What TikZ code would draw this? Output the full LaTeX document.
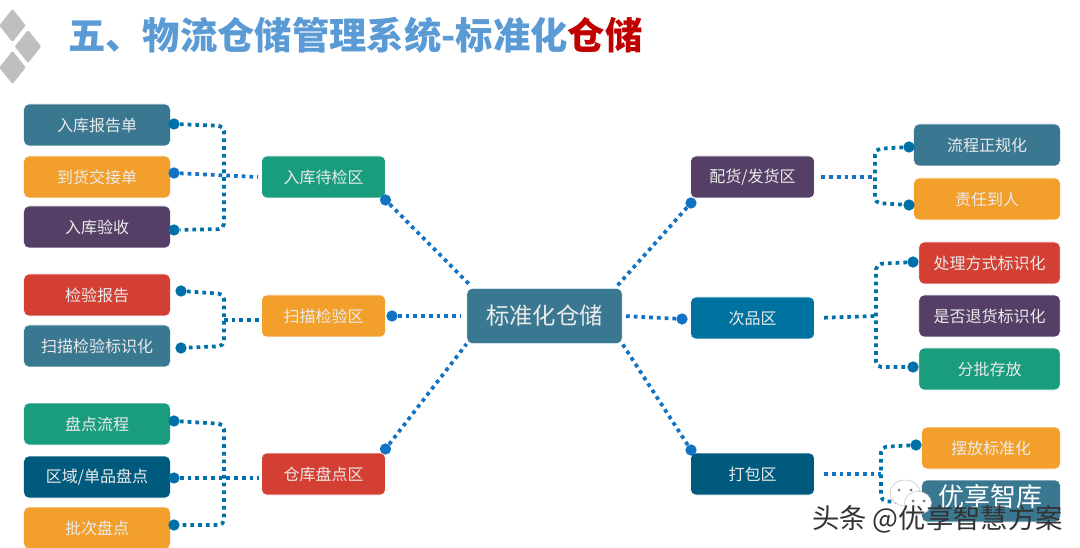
\documentclass[tikz,border=0pt]{standalone}
\usepackage{fontspec}
\setmainfont{Noto Sans CJK SC}
\usepackage{tikz}
\usetikzlibrary{positioning}
\definecolor{cteal}{HTML}{3A7891}
\definecolor{corange}{HTML}{F29F2B}
\definecolor{cpurple}{HTML}{563F66}
\definecolor{cred}{HTML}{D33F32}
\definecolor{cgreen}{HTML}{1A9C7F}
\definecolor{cnavy}{HTML}{005A7D}
\definecolor{cblue}{HTML}{0072A0}
\definecolor{cdot}{HTML}{1273C5}
\definecolor{cdotb}{HTML}{0070A8}
\definecolor{ctitle}{HTML}{5B9BD5}
\definecolor{ctitler}{HTML}{C00000}
\definecolor{cdiam}{HTML}{BFBFBF}

\begin{document}
\begin{tikzpicture}[
  x=0.75pt,y=-0.75pt,
  line join=round,
  leaf/.style={rounded corners=4pt,draw=white,line width=0.4pt,text=white!92!black,
    minimum height=31.5pt,inner sep=0pt,font=\fontsize{12}{14}\selectfont},
  leafa/.style={leaf,minimum width=110pt},
  leafb/.style={leaf,minimum width=106pt},
  leafc/.style={leaf,minimum width=104pt},
  mid/.style={leaf,minimum width=93pt},
  hub/.style={leaf,minimum width=116.5pt,minimum height=41.5pt,font=\fontsize{17.5}{20}\selectfont},
  knob/.style={circle,inner sep=0pt,minimum size=8.5pt},
  knoba/.style={knob,fill=cdot},
  knobb/.style={knob,fill=cdotb},
  link/.style={draw=cdot,line width=2.8pt,dash pattern=on 2.8pt off 3pt},
  linkb/.style={draw=cdotb,line width=2.8pt,dash pattern=on 2.8pt off 3pt,rounded corners=4pt},
  diam/.style={fill=cdiam,draw=cdiam,line width=2pt}
]
\useasboundingbox (0,0) rectangle (1080,548);

% Heading
\draw[diam] (12.5,11) -- (24,25.5) -- (12.5,40) -- (1,25.5) -- cycle;
\draw[diam] (28,32) -- (39.5,46.5) -- (28,61) -- (16.5,46.5) -- cycle;
\draw[diam] (12.5,53) -- (24,67.5) -- (12.5,82) -- (1,67.5) -- cycle;
\node[anchor=west,inner sep=0pt,font=\fontsize{28}{30}\bfseries\selectfont] (heading) at (68,35)
  {\textcolor{ctitle}{五、物流仓储管理系统-标准化}\textcolor{ctitler}{仓储}};

% Hub
\node[hub,fill=cteal] (hub) at (544.5,316) {标准化仓储};

% Left column
\node[mid,fill=cgreen] (instock) at (323.5,177) {入库待检区};
\node[mid,fill=corange] (scan) at (323.5,316) {扫描检验区};
\node[mid,fill=cred] (count) at (323.5,474) {仓库盘点区};

\node[leafa,fill=cteal] (report) at (97,125) {入库报告单};
\node[leafa,fill=corange] (handover) at (97,177) {到货交接单};
\node[leafa,fill=cpurple] (accept) at (97,227) {入库验收};
\node[leafa,fill=cred] (inspect) at (97,295) {检验报告};
\node[leafa,fill=cteal] (scanmark) at (97,346) {扫描检验标识化};
\node[leafa,fill=cgreen] (flow) at (97,424) {盘点流程};
\node[leafa,fill=cnavy] (area) at (97,477) {区域/单品盘点};
\node[leafa,fill=corange] (batch) at (97,528) {批次盘点};

% Right column
\node[mid,fill=cpurple] (ship) at (752.5,177) {配货/发货区};
\node[mid,fill=cblue] (defect) at (752.5,318) {次品区};
\node[mid,fill=cnavy] (pack) at (752.5,474) {打包区};

\node[leafa,fill=cteal] (process) at (987,145) {流程正规化};
\node[leafa,fill=corange] (duty) at (987,199) {责任到人};
\node[leafb,fill=cred] (handle) at (989.5,263) {处理方式标识化};
\node[leafb,fill=cpurple] (retmark) at (989.5,316) {是否退货标识化};
\node[leafb,fill=cgreen] (store) at (989.5,369) {分批存放};
\node[leafc,fill=corange] (place) at (991,448) {摆放标准化};
\node[leafc,fill=cteal] (lastbox) at (991,501) {};

% Knobs on the hub spokes
\node[knoba] (k1) at (385.5,200) {};
\node[knoba] (k2) at (392,316) {};
\node[knoba] (k3) at (385.5,449) {};
\node[knoba] (k4) at (691,203) {};
\node[knoba] (k5) at (682,319) {};
\node[knoba] (k6) at (691,450) {};

% Knobs on the leaves
\node[knobb] (a1) at (174,124) {};
\node[knoba] (a2) at (174,173) {};
\node[knobb] (a3) at (174,230) {};
\node[knobb] (b1) at (181,291) {};
\node[knobb] (b2) at (181,348) {};
\node[knobb] (c1) at (174,421) {};
\node[knobb] (c2) at (174,478) {};
\node[knobb] (c3) at (174,525) {};
\node[knobb] (d1) at (909,147) {};
\node[knobb] (d2) at (909,205) {};
\node[knobb] (e1) at (913,262) {};
\node[knobb] (e2) at (913,367) {};
\node[knobb] (f1) at (916,445) {};
\node[knobb] (f2) at (916,503) {};

% Hub spokes
\coordinate (hubne) at (617,286);
\coordinate (hubnw) at (471,286);
\draw[link] (k1) -- (hubnw);
\draw[link] (k3) -- (hub.south west);
\draw[link] (k4) -- (hubne);
\draw[link] (k6) -- (hub.south east);
\draw[link,shorten >=4pt] (k2) -- (hub.west);
\draw[link,shorten >=2pt] (k5) -- (hub.east);

% Brackets, left
\coordinate (a1c) at (224,126);
\coordinate (a3c) at (224,229);
\coordinate (aj) at (258,177);
\coordinate (b1c) at (224,294);
\coordinate (b2c) at (224,346);
\coordinate (bj) at (224,320);
\coordinate (bk) at (259,320);
\coordinate (c1c) at (224,424);
\coordinate (c3c) at (224,525);
\coordinate (cj) at (259,478);
\draw[linkb] (a1) -- (a1c) -- (a3c) -- (a3);
\draw[link] (a2) -- (aj);
\draw[linkb] (b1) -- (b1c) -- (b2c) -- (b2);
\draw[linkb] (bj) -- (bk);
\draw[linkb] (c1) -- (c1c) -- (c3c) -- (c3);
\draw[linkb] (c2) -- (cj);

% Brackets, right
\coordinate (d1c) at (875,149);
\coordinate (d2c) at (875,203);
\coordinate (dj) at (875,177);
\coordinate (e1c) at (876,264);
\coordinate (e2c) at (876,367);
\coordinate (ej) at (876,316);
\coordinate (f1c) at (881,447);
\coordinate (f2c) at (881,501);
\coordinate (fj) at (881,474);
\draw[linkb] (d1) -- (d1c) -- (d2c) -- (d2);
\draw[link,shorten <=5pt] (ship.east) -- (dj);
\draw[linkb] (e1) -- (e1c) -- (e2c) -- (e2);
\draw[linkb,shorten <=7pt] (defect.east) -- (ej);
\draw[linkb] (f1) -- (f1c) -- (f2c) -- (f2);
\draw[link,shorten <=7pt] (pack.east) -- (fj);

% Watermark
\fill[white,draw=black!25,line width=0.4pt] (905,493) ellipse [x radius=15,y radius=13];
\fill[white,draw=black!25,line width=0.4pt] (918,503) ellipse [x radius=13.5,y radius=11.5];
\fill[black!55] (899,490) circle [radius=1.5] (911,490) circle [radius=1.5];
\fill[black!55] (913,501) circle [radius=1.5] (924,501) circle [radius=1.5];
\node[inner sep=0pt,text=white,font=\fontsize{19.5}{22}\selectfont] (mark) at (990.5,497) {优享智库};
\node[anchor=east,inner sep=0pt,text=black!80,font=\fontsize{20.5}{22}\selectfont] (credit) at (1063,519) {头条 @优享智慧方案};
\end{tikzpicture}
\end{document}
